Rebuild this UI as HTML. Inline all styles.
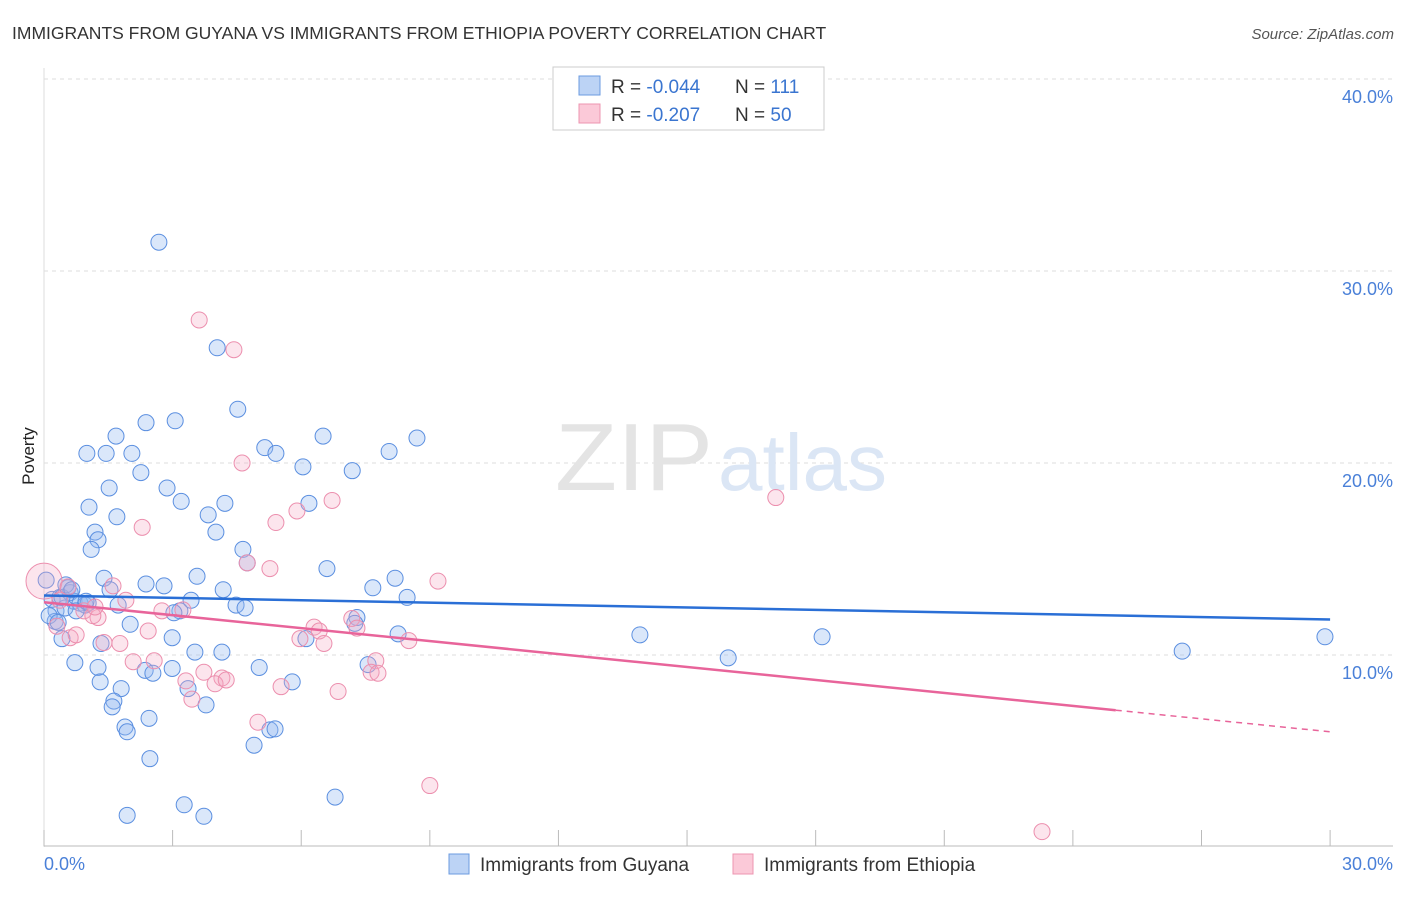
<!DOCTYPE html>
<html><head><meta charset="utf-8"><style>
body{margin:0;background:#fff;font-family:"Liberation Sans",sans-serif;}
svg text{font-family:"Liberation Sans",sans-serif;}
</style></head><body>
<svg id="chart" width="1406" height="892" xmlns="http://www.w3.org/2000/svg">
<text x="12" y="39" font-size="17.5" fill="#333" font-weight="normal">IMMIGRANTS FROM GUYANA VS IMMIGRANTS FROM ETHIOPIA POVERTY CORRELATION CHART</text>
<text x="1394" y="39" font-size="15" fill="#555" font-style="italic" text-anchor="end">Source: ZipAtlas.com</text>
<g id="grid"></g>
<g id="ticks"></g>
<text x="34" y="456" font-size="17" fill="#222" text-anchor="middle" transform="rotate(-90 34 456)">Poverty</text>
<text x="555" y="490" font-size="96" fill="#e4e4e4" textLength="158" lengthAdjust="spacingAndGlyphs" font-family="Liberation Serif">ZIP</text>
<text x="718" y="490" font-size="80" fill="#dbe6f5">atlas</text>
<g id="pts"></g>
<g id="trends"></g>
<text x="44" y="870" font-size="18" fill="#4a80d8">0.0%</text>
<text x="1393" y="870" font-size="18" fill="#4a80d8" text-anchor="end">30.0%</text>
<g>
<rect x="553" y="67" width="271" height="63" fill="#fff" stroke="#ccc"/>
<rect x="579" y="76" width="21" height="19" fill="#bcd3f5" stroke="#6b9be0"/>
<rect x="579" y="104" width="21" height="19" fill="#fbc9d8" stroke="#ec95b0"/>
<text x="611" y="93" font-size="19" fill="#333">R = <tspan fill="#3a75d0">-0.044</tspan><tspan x="735">N = </tspan><tspan fill="#3a75d0">111</tspan></text>
<text x="611" y="121" font-size="19" fill="#333">R = <tspan fill="#3a75d0"> -0.207</tspan><tspan x="735">N = </tspan><tspan fill="#3a75d0">50</tspan></text>
</g>
<g>
<rect x="449" y="854" width="20" height="20" fill="#bcd3f5" stroke="#6b9be0"/>
<text x="480" y="871" font-size="19" fill="#333">Immigrants from Guyana</text>
<rect x="733" y="854" width="20" height="20" fill="#fbc9d8" stroke="#ec95b0"/>
<text x="764" y="871" font-size="19" fill="#333">Immigrants from Ethiopia</text>
</g>
</svg>
<script>
const yTicks=[10,20,30,40];
const yTickLabels=["10.0%","20.0%","30.0%","40.0%"];
const guyanaX=[2.68,4.04,4.52,3.06,2.38,1.68,1.0,1.45,2.05,5.15,5.41,6.51,8.7,8.05,7.19,6.04,2.26,2.87,1.52,3.2,4.22,6.18,1.05,1.7,3.83,1.19,4.01,1.26,1.1,4.64,4.74,6.6,3.57,1.4,2.38,2.8,4.18,1.54,8.19,7.67,8.47,1.73,3.43,4.48,4.69,3.17,3.03,2.01,7.3,7.25,8.26,13.9,18.15,26.55,29.88,0.42,1.33,2.99,6.11,3.52,4.15,0.72,1.26,2.36,2.54,2.99,5.02,7.56,1.31,1.8,3.36,5.79,15.96,1.63,1.59,3.78,1.89,1.94,2.45,4.9,5.27,5.39,2.47,6.79,3.27,1.94,3.73,0.05,0.19,0.28,0.26,0.37,0.56,0.61,0.7,0.84,0.96,1.03,0.49,0.12,0.42,0.75,0.98,0.33,0.51,0.65];
const guyanaY=[31.5,26.0,22.8,22.2,22.1,21.4,20.5,20.5,20.5,20.8,20.5,21.4,21.3,20.6,19.6,19.8,19.5,18.7,18.7,18.0,17.9,17.9,17.7,17.2,17.3,16.4,16.4,16.0,15.5,15.5,14.8,14.5,14.1,14.0,13.7,13.6,13.4,13.4,14.0,13.5,13.0,12.6,12.85,12.6,12.45,12.3,12.2,11.6,11.95,11.65,11.1,11.05,10.95,10.2,10.95,10.85,10.6,10.9,10.85,10.15,10.15,9.6,9.35,9.2,9.05,9.3,9.35,9.5,8.6,8.25,8.25,8.6,9.85,7.6,7.3,7.4,6.25,6.0,6.7,5.3,6.1,6.15,4.6,2.6,2.2,1.65,1.6,13.9,12.9,12.3,11.75,13.0,13.5,13.25,12.8,12.7,12.6,12.7,12.45,12.05,13.0,12.3,12.8,11.7,13.65,13.4,12.95];
const ethiopiaX=[3.62,4.43,4.62,17.07,6.72,5.9,5.41,2.29,4.74,5.27,9.19,1.61,0.0,0.56,1.91,2.75,3.24,0.93,1.26,1.14,7.18,6.3,6.42,7.3,2.43,5.97,6.53,8.51,1.4,1.77,0.61,0.75,0.3,2.08,2.57,7.74,7.63,7.79,3.73,3.31,4.15,3.99,4.25,6.86,5.53,3.45,4.99,9.0,23.28,0.37,1.19];
const ethiopiaY=[27.45,25.9,20.0,18.2,18.05,17.5,16.9,16.65,14.8,14.5,13.85,13.6,13.85,13.55,12.85,12.3,12.35,12.3,11.95,12.05,11.9,11.45,11.25,11.4,11.25,10.85,10.6,10.75,10.65,10.6,10.9,11.05,11.5,9.65,9.7,9.7,9.1,9.05,9.1,8.65,8.8,8.5,8.7,8.1,8.35,7.7,6.5,3.2,0.8,12.85,12.5];
function xs(v){return 44+v*42.87;}
function ys(v){return 847-v*19.2;}
const NS="http://www.w3.org/2000/svg";
const grid=document.getElementById('grid'), ticks=document.getElementById('ticks');
function mk(t,a,p){const e=document.createElementNS(NS,t);for(const k in a)e.setAttribute(k,a[k]);p.appendChild(e);return e;}
yTicks.forEach((v,i)=>{
 const l=mk('line',{x1:44,x2:1393,y1:ys(v),y2:ys(v),stroke:'#ddd','stroke-dasharray':'4,4'},grid);
 
 
 const t=mk('text',{x:1393,y:ys(v)+24,'font-size':18,fill:'#4a80d8','text-anchor':'end'},ticks);
 t.textContent=yTickLabels[i];
 
 
});
mk('line',{x1:44,x2:44,y1:68,y2:847,stroke:'#ddd'},grid);
const ax=mk('line',{x1:44,x2:1393,y1:846,y2:846,stroke:'#bbb'},grid);


for(let i=0;i<=10;i++){mk('line',{x1:xs(i*3),x2:xs(i*3),y1:830,y2:846,stroke:'#bbb'},grid);}
const pts=document.getElementById('pts');
guyanaX.forEach((x,i)=>{
 const c=mk('circle',{cx:xs(x),cy:ys(guyanaY[i]),r:8,fill:'rgba(150,185,240,0.35)',stroke:'#5b8fe0','stroke-width':1},pts);
 
 
});
ethiopiaX.forEach((x,i)=>{
 const c=mk('circle',{cx:xs(x),cy:ys(ethiopiaY[i]),r:i==12?18:8,fill:'rgba(245,170,195,0.3)',stroke:'#ec8fae','stroke-width':1},pts);
 
 
});
const tr=document.getElementById('trends');
const bl=mk('line',{x1:xs(0),y1:ys(13.1),x2:xs(30),y2:ys(11.85),stroke:'#2a6fd6','stroke-width':2.5},tr);


function py(x){return 12.75+(6.0-12.75)*x/30;}
const pl=mk('line',{x1:xs(0),y1:ys(py(0)),x2:xs(25),y2:ys(py(25)),stroke:'#e8649a','stroke-width':2.5},tr);


const pd=mk('line',{x1:xs(25),y1:ys(py(25)),x2:xs(30),y2:ys(py(30)),stroke:'#e8649a','stroke-width':1.5,'stroke-dasharray':'6,5'},tr);


</script>
</body></html>
